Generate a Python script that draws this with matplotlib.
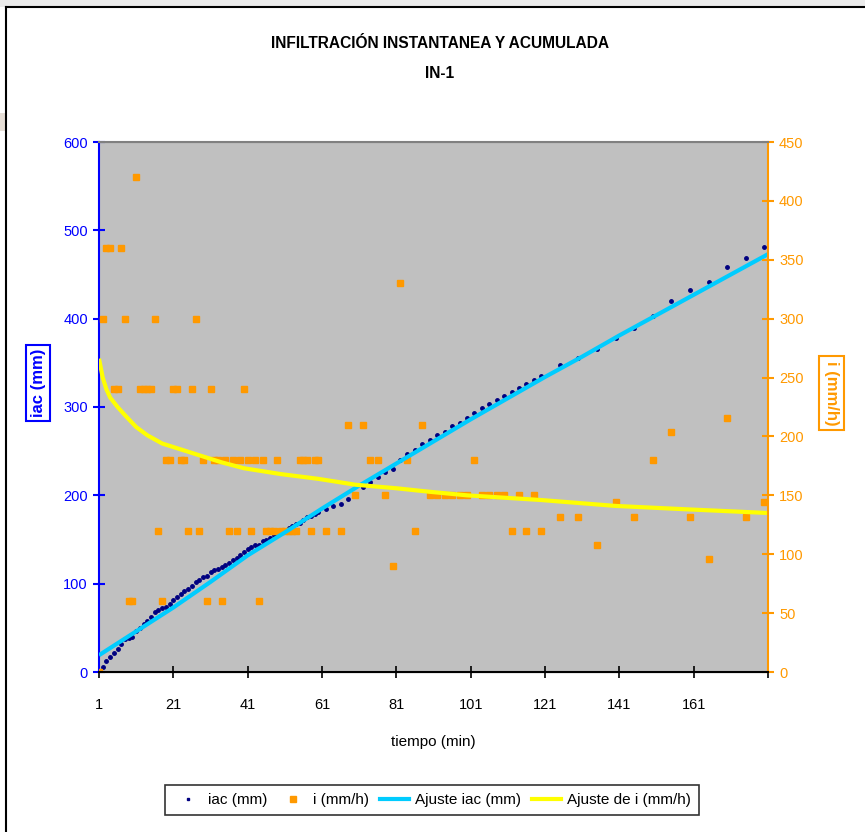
import matplotlib
matplotlib.use('Agg')
import matplotlib.pyplot as plt
from matplotlib.lines import Line2D
from matplotlib.patches import Rectangle
import numpy as np

plt.rcParams['font.family'] = ['Liberation Sans', 'DejaVu Sans']

# ---------------- data ----------------
tiempo = list(range(1, 61)) + list(range(62, 121, 2)) + list(range(125, 181, 5))

iac_mm = [0, 6, 12, 17, 22, 26, 32, 37, 39, 40,
          46, 50, 54, 58, 62, 68, 70, 72, 74, 77,
          81, 85, 88, 92, 94, 97, 102, 104, 107, 109,
          113, 115, 117, 119, 121, 123, 127, 129, 132, 136,
          139, 141, 144, 144, 148, 150, 152, 155, 157, 159,
          161, 163, 165, 167, 169, 172, 175, 177, 179, 181,
          185, 188, 190, 196, 202, 209, 215, 221, 226, 230,
          240, 247, 251, 258, 263, 268, 272, 278, 282, 287,
          293, 299, 303, 308, 313, 317, 322, 326, 331, 335,
          347, 356, 366, 378, 389, 403, 420, 432, 441, 458, 469, 481]

i_mmh = [0, 300, 360, 360, 240, 240, 360, 300, 60, 60,
         420, 240, 240, 240, 240, 300, 120, 60, 180, 180,
         240, 240, 180, 180, 120, 240, 300, 120, 180, 60,
         240, 180, 180, 60, 180, 120, 180, 120, 180, 240,
         180, 120, 180, 60, 180, 120, 120, 120, 180, 120,
         120, 120, 120, 120, 180, 180, 180, 120, 180, 180,
         120, np.nan, 120, 210, 150, 210, 180, 180, 150, 90,
         330, 180, 120, 210, 150, 150, 150, 150, 150, 150,
         180, 150, 150, 150, 150, 120, 150, 120, 150, 120,
         132, 132, 108, 144, 132, 180, 204, 132, 96, 216, 132, 144]

ajuste_t = [1, 11, 21, 31, 41, 51, 61, 71, 81, 91, 101, 111, 121, 131, 141, 151, 161, 171, 181]
ajuste_iac = [19, 46, 73, 102, 132, 158, 185, 211, 236, 261, 286, 310, 334, 357, 381, 404, 427, 450, 473]

ajuste_i_t = [1, 2, 3, 4, 6, 8, 11, 14, 18, 23, 28, 34, 40, 50, 60, 70, 81, 90, 100, 110, 120, 140, 160, 181]
ajuste_i = [266, 250, 240, 233, 225, 218, 208, 201, 194, 189, 184, 178, 173, 168, 164, 159, 156, 153, 150, 148, 146, 141, 138, 135]

x_ticks = [1, 21, 41, 61, 81, 101, 121, 141, 161, 181]
x_ticklabels = ['1', '21', '41', '61', '81', '101', '121', '141', '161', '']

# ---------------- figure ----------------
W, H = 865, 832
fig = plt.figure(figsize=(W / 100, H / 100), dpi=100)

# page decorations
fig.add_artist(Rectangle((0, 1 - 7 / H), 1, 7 / H, transform=fig.transFigure,
                         facecolor='#EBEBEB', edgecolor='none'))
fig.add_artist(Rectangle((0, 1 - 131 / H), 5 / W, 18 / H, transform=fig.transFigure,
                         facecolor='#E6DED6', edgecolor='none'))
fig.add_artist(Line2D([5.5 / W, 5.5 / W], [0, 1 - 7 / H], transform=fig.transFigure,
                      color='black', lw=1.5))
fig.add_artist(Line2D([5.5 / W, 1], [1 - 7 / H, 1 - 7 / H], transform=fig.transFigure,
                      color='black', lw=1.5))

L, R, T, B = 99, 768, 142, 672
ax1 = fig.add_axes([L / W, 1 - B / H, (R - L) / W, (B - T) / H])
ax1.set_facecolor('#C0C0C0')
ax2 = ax1.twinx()

ax1.set_xlim(1, 181)
ax1.set_ylim(0, 600)
ax2.set_ylim(0, 450)

blue = '#0000FF'
orange = '#FF9900'

ax1.plot(tiempo, iac_mm, ls='none', marker='o', ms=2.5, color='#000080', zorder=2)
ax1.plot(tiempo, i_mmh, ls='none', marker='s', ms=4.6, color=orange, mec=orange,
         transform=ax2.transData, zorder=3)
ax1.plot(ajuste_t, ajuste_iac, color='#00CCFF', lw=3, zorder=4, solid_capstyle='butt')
ax1.plot(ajuste_i_t, ajuste_i, color='#FFFF00', lw=3, zorder=5, solid_capstyle='butt',
         transform=ax2.transData)

# spines
for ax in (ax1, ax2):
    ax.spines['top'].set_color('#808080')
    ax.spines['bottom'].set_color('black')
ax1.spines['left'].set_color(blue)
ax1.spines['left'].set_linewidth(1.5)
ax1.spines['right'].set_visible(False)
ax2.spines['left'].set_visible(False)
ax2.spines['right'].set_color(orange)
ax2.spines['right'].set_linewidth(1.5)
ax2.spines['bottom'].set_linewidth(1.5)
ax2.spines['top'].set_linewidth(1.5)

ax1.set_yticks(range(0, 601, 100))
ax2.set_yticks(range(0, 451, 50))
ax1.set_xticks(x_ticks)
ax1.set_xticklabels(x_ticklabels)

ax1.tick_params(axis='y', colors=blue, direction='inout', length=8, width=1.5,
                labelsize=10.5, pad=4)
ax2.tick_params(axis='y', colors=orange, direction='inout', length=8, width=1.5,
                labelsize=10.5, pad=4)
ax1.tick_params(axis='x', colors='black', direction='inout', length=8, width=1.2,
                labelsize=10.5, pad=15)

ax1.set_xlabel('tiempo (min)', fontsize=11, labelpad=16)

fig.text(38 / W, 1 - 383 / H, 'iac (mm)', rotation=90, ha='center', va='center',
         color=blue, fontweight='bold', fontsize=12,
         bbox=dict(facecolor='white', edgecolor=blue, lw=1.5, boxstyle='square,pad=0.25'))
fig.text(831 / W, 1 - 393 / H, 'i (mm/h)', rotation=270, ha='center', va='center',
         color=orange, fontweight='bold', fontsize=12,
         bbox=dict(facecolor='white', edgecolor=orange, lw=1.5, boxstyle='square,pad=0.3'))

fig.text(440 / W, 1 - 44 / H, 'INFILTRACIÓN INSTANTANEA Y ACUMULADA', ha='center',
         va='center', fontweight='bold', fontsize=11.2)
fig.text(440 / W, 1 - 73 / H, 'IN-1', ha='center', va='center', fontweight='bold', fontsize=11.2)

handles = [
    Line2D([], [], ls='none', marker='s', ms=1.8, color='#000080'),
    Line2D([], [], ls='none', marker='s', ms=5, color=orange),
    Line2D([], [], color='#00CCFF', lw=3),
    Line2D([], [], color='#FFFF00', lw=3),
]
labels = ['iac (mm)', 'i (mm/h)', 'Ajuste iac (mm)', 'Ajuste de i (mm/h)']
leg = fig.legend(handles, labels, loc='center', bbox_to_anchor=(432 / W, 1 - 800 / H),
                 ncol=4, frameon=True, fancybox=False, edgecolor='black', fontsize=11,
                 handlelength=1.9, handletextpad=0.4, columnspacing=0.7,
                 borderpad=0.55)
leg.get_frame().set_linewidth(1.2)

fig.savefig('out.png', dpi=100, facecolor='white')
